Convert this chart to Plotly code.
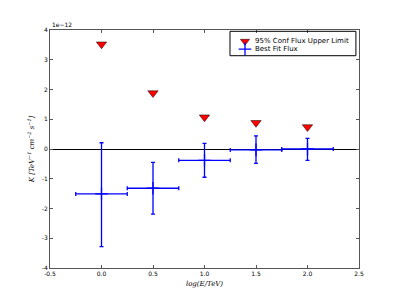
import plotly.graph_objects as go

# Data (flux in units of 1e-12)
log_e = [0.0, 0.5, 1.0, 1.5, 2.0]
upper_limit = [3.52, 1.88, 1.07, 0.88, 0.74]
best_fit = [-1.51, -1.32, -0.38, -0.03, 0.0]
err_plus = [1.72, 0.87, 0.57, 0.47, 0.36]
err_minus = [1.77, 0.87, 0.57, 0.45, 0.38]
x_half_width = [0.25, 0.25, 0.25, 0.25, 0.25]

x_ticks = [-0.5, 0.0, 0.5, 1.0, 1.5, 2.0, 2.5]
y_ticks = [-4, -3, -2, -1, 0, 1, 2, 3, 4]

legend_names = ["95% Conf Flux Upper Limit", "Best Fit Flux"]

tri_marker = dict(symbol="triangle-down", size=9, color="red",
                  line=dict(color="black", width=0.5))
cross_marker = dict(symbol="cross-thin", size=9, color="blue",
                    line=dict(color="blue", width=1.3))

fig = go.Figure()

fig.add_trace(go.Scatter(
    x=log_e, y=upper_limit, mode="markers", name=legend_names[0],
    marker=tri_marker, showlegend=False,
))

fig.add_trace(go.Scatter(
    x=log_e, y=best_fit, mode="markers", name=legend_names[1],
    marker=cross_marker, showlegend=False,
    error_y=dict(type="data", symmetric=False, array=err_plus,
                 arrayminus=err_minus, color="blue", thickness=1.3, width=2),
    error_x=dict(type="data", array=x_half_width, color="blue",
                 thickness=1.3, width=2),
))

# Compact matplotlib-style legend (symbols on an overlay axis in paper units)
leg_sym_x = 0.631
leg_row_y = [0.9525, 0.920]
leg_text_x = 0.657
fig.add_trace(go.Scatter(x=[leg_sym_x], y=[leg_row_y[0]], mode="markers",
                         marker=dict(tri_marker, size=8), xaxis="x2", yaxis="y2",
                         showlegend=False, hoverinfo="skip"))
fig.add_trace(go.Scatter(x=[leg_sym_x], y=[leg_row_y[1]], mode="markers",
                         marker=dict(cross_marker, size=9), xaxis="x2", yaxis="y2",
                         showlegend=False, hoverinfo="skip"))

axis_common = dict(
    showline=True, linecolor="#555", linewidth=1, mirror="ticks",
    ticks="inside", ticklen=3, tickcolor="#555",
    showgrid=False, tickfont=dict(family="DejaVu Sans", size=6, color="black"),
)

annotations = [dict(text="1e−12", x=0, y=1, xref="paper", yref="paper",
                    xanchor="left", yanchor="bottom", showarrow=False,
                    font=dict(family="DejaVu Sans", size=6, color="black"))]
for name, yy in zip(legend_names, leg_row_y):
    annotations.append(dict(text=name, x=leg_text_x, y=yy, xref="paper", yref="paper",
                            xanchor="left", yanchor="middle", showarrow=False,
                            font=dict(family="DejaVu Sans", size=7, color="black")))

fig.update_layout(
    width=391, height=291,
    margin=dict(l=42, r=40, t=22, b=31),
    plot_bgcolor="white", paper_bgcolor="white",
    xaxis=dict(range=[-0.5, 2.5], tickvals=x_ticks,
               ticktext=[f"{v:.1f}" for v in x_ticks],
               title=dict(text="<i>log(E/TeV)</i>", standoff=4,
                          font=dict(family="DejaVu Serif", size=7, color="black")),
               zeroline=False, **axis_common),
    yaxis=dict(range=[-4, 4], tickvals=y_ticks,
               ticktext=[str(v) for v in y_ticks],
               title=dict(text="<i>K [TeV<sup>−1</sup> cm<sup>−2</sup> s<sup>−1</sup>]</i>",
                          standoff=6,
                          font=dict(family="DejaVu Serif", size=7, color="black")),
               zeroline=True, zerolinecolor="black", zerolinewidth=1,
               **axis_common),
    xaxis2=dict(range=[0, 1], overlaying="x", visible=False, fixedrange=True),
    yaxis2=dict(range=[0, 1], overlaying="y", visible=False, fixedrange=True),
    showlegend=False,
    shapes=[dict(type="rect", xref="paper", yref="paper",
                 x0=0.5825, x1=0.990, y0=0.892, y1=0.9945,
                 line=dict(color="black", width=1), fillcolor="rgba(0,0,0,0)",
                 layer="above")],
    annotations=annotations,
)

fig.write_html("out.html")
